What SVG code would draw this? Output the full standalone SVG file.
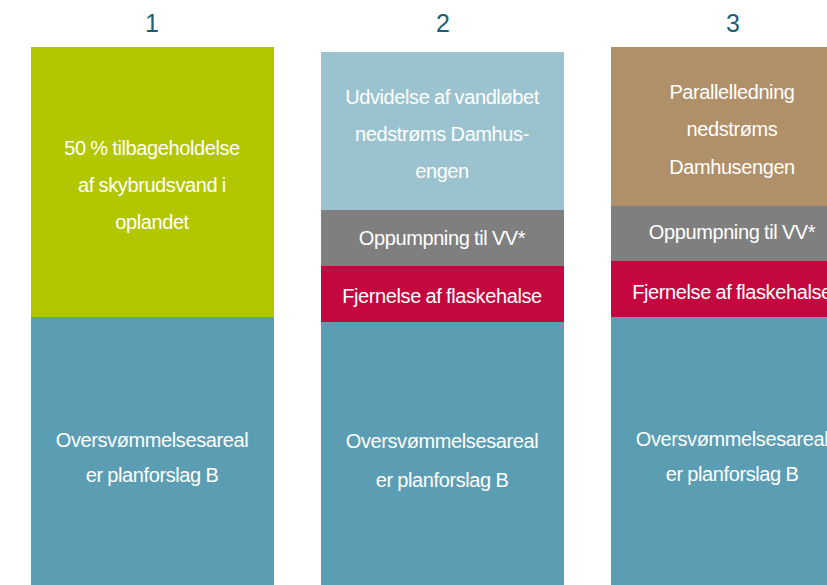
<svg xmlns="http://www.w3.org/2000/svg" width="827" height="585" viewBox="0 0 827 585">
<style>
text{font-family:"Liberation Sans",Arial,sans-serif;text-anchor:middle}
.n{font-size:25px;fill:#1B5F76}
.t{font-size:20px;fill:#ffffff;letter-spacing:-0.4px;word-spacing:-0.5px}
</style>
<rect width="827" height="585" fill="#ffffff"/>
<g id="col1">
<text class="n" x="152" y="32">1</text>
<rect x="31" y="47" width="243" height="270" fill="#B3C700"/>
<rect x="31" y="317" width="243" height="268" fill="#5B9EB3"/>
<text class="t" x="152" y="155">50 % tilbageholdelse</text>
<text class="t" x="152" y="192">af skybrudsvand i</text>
<text class="t" x="152" y="229">oplandet</text>
<text class="t" x="152" y="447">Oversvømmelsesareal</text>
<text class="t" x="152" y="482">er planforslag B</text>
</g>
<g id="col2">
<text class="n" x="443" y="32">2</text>
<rect x="321" y="52" width="243" height="158" fill="#9BC3CF"/>
<rect x="321" y="210" width="243" height="56" fill="#7F7F7F"/>
<rect x="321" y="266" width="243" height="56" fill="#C4073E"/>
<rect x="321" y="322" width="243" height="263" fill="#5B9EB3"/>
<text class="t" x="442" y="104">Udvidelse af vandløbet</text>
<text class="t" x="442" y="141">nedstrøms Damhus-</text>
<text class="t" x="442" y="178">engen</text>
<text class="t" x="442" y="245">Oppumpning til VV*</text>
<text class="t" x="442" y="303">Fjernelse af flaskehalse</text>
<text class="t" x="442" y="448">Oversvømmelsesareal</text>
<text class="t" x="442" y="487">er planforslag B</text>
</g>
<g id="col3">
<text class="n" x="733" y="32">3</text>
<rect x="611" y="47" width="216" height="159" fill="#B09068"/>
<rect x="611" y="206" width="216" height="55" fill="#7F7F7F"/>
<rect x="611" y="261" width="216" height="56" fill="#C4073E"/>
<rect x="611" y="317" width="216" height="268" fill="#5B9EB3"/>
<text class="t" x="732" y="99">Parallelledning</text>
<text class="t" x="732" y="136">nedstrøms</text>
<text class="t" x="732" y="174">Damhusengen</text>
<text class="t" x="732" y="239">Oppumpning til VV*</text>
<text class="t" x="732" y="299">Fjernelse af flaskehalse</text>
<text class="t" x="732" y="446">Oversvømmelsesareal</text>
<text class="t" x="732" y="481">er planforslag B</text>
</g>
</svg>
